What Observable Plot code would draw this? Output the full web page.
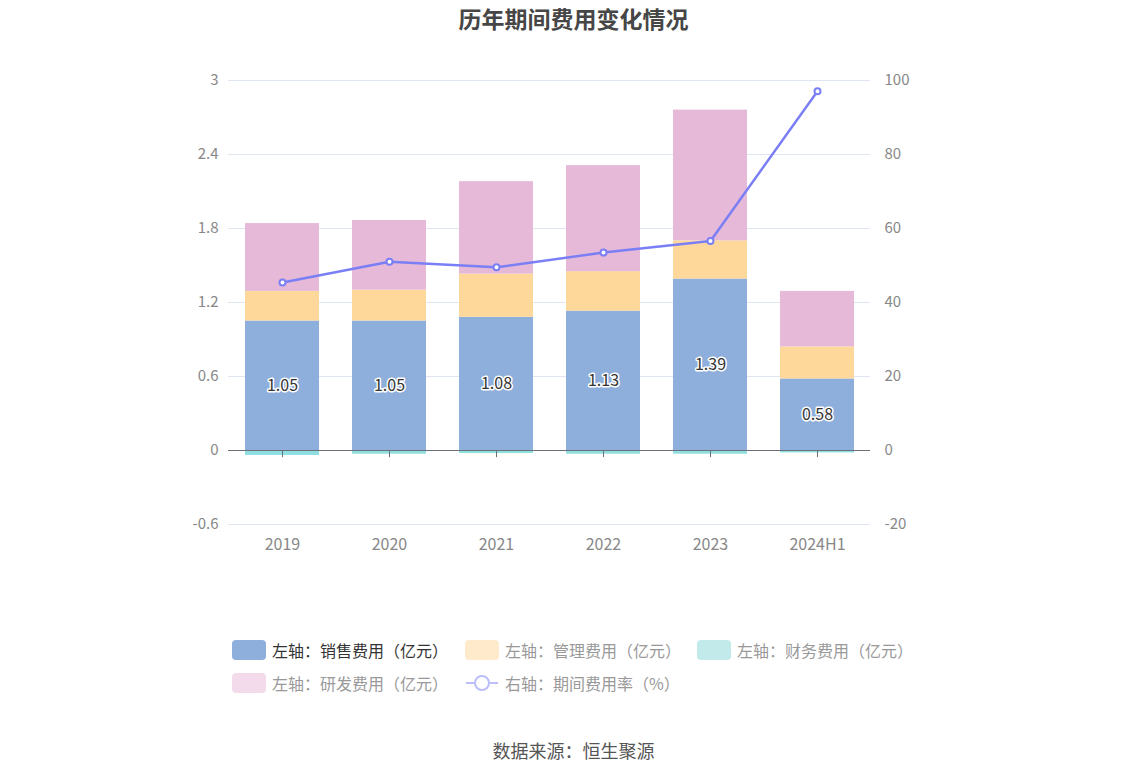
<!DOCTYPE html>
<html><head><meta charset="utf-8">
<script src="https://cdn.jsdelivr.net/npm/d3@7"></script>
<script src="https://cdn.jsdelivr.net/npm/@observablehq/plot@0.6"></script>
<style>
body{margin:0;background:#fff;font-family:"Noto Sans CJK SC","Noto Sans",sans-serif;}
#wrap{position:relative;width:1147px;height:776px;overflow:hidden;}
#title{position:absolute;top:4px;left:0;width:1147px;text-align:center;font-size:23px;font-weight:bold;color:#464646;line-height:28px;}
#chart{position:absolute;top:40px;left:0;}
#legend{position:absolute;top:637px;left:230px;width:720px;font-size:16px;color:#999;}
.li{position:absolute;display:flex;align-items:center;white-space:nowrap;}
.sw{width:34px;height:20px;border-radius:4px;margin-right:6px;}
#src{position:absolute;top:737px;left:0;width:1147px;text-align:center;font-size:18px;color:#555;}
</style></head>
<body><div id="wrap">
<div id="title">历年期间费用变化情况</div>
<div id="chart"></div>
<div id="legend"></div>
<div id="src">数据来源：恒生聚源</div>
</div>
<script>
const years = ["2019","2020","2021","2022","2023","2024H1"];
const sales = [1.05,1.05,1.08,1.13,1.39,0.58];
const admin = [0.24,0.25,0.35,0.32,0.31,0.26];
const finance = [-0.04,-0.03,-0.025,-0.03,-0.03,-0.02];
const rnd = [0.55,0.565,0.75,0.86,1.06,0.45];
const rate = [45.4,51.0,49.5,53.5,56.6,97.1];
const leftTicks = [-0.6,0,0.6,1.2,1.8,2.4,3];
const rightTicks = [-20,0,20,40,60,80,100];

const series = [
  {name:"左轴：销售费用（亿元）", vals:sales, color:"#8eaedb"},
  {name:"左轴：管理费用（亿元）", vals:admin, color:"#fed89b"},
  {name:"左轴：财务费用（亿元）", vals:finance, color:"#8fdfe0"},
  {name:"左轴：研发费用（亿元）", vals:rnd, color:"#e6b9d9"}
];
const rows = [];
series.forEach(s => years.forEach((y,i) => rows.push({year:y, series:s.name, value:s.vals[i]})));
const lineRows = years.map((y,i) => ({year:y, rate:rate[i], v: rate[i]*3/100}));
const salesRows = years.map((y,i)=>({year:y, value:sales[i]}));

const chart = Plot.plot({
  width:1147, height:532,
  marginLeft:228, marginRight:277, marginTop:40, marginBottom:48,
  style:{fontFamily:"'Noto Sans CJK SC','Noto Sans',sans-serif", fontSize:"15px", color:"#888"},
  x:{domain:years, paddingInner:0.31, paddingOuter:0.155, align:0.5, label:null},
  y:{domain:[-0.6,3], label:null},
  color:{domain:series.map(s=>s.name), range:series.map(s=>s.color)},
  marks:[
    Plot.gridY(leftTicks, {stroke:"#e0e6f1", strokeOpacity:1, strokeWidth:1.2}),
    Plot.axisY(leftTicks, {anchor:"left", tickSize:0, tickPadding:10, fontSize:15, fill:"#888", label:null, tickFormat:d=>String(d)}),
    Plot.axisY(leftTicks, {anchor:"right", tickSize:0, tickPadding:14, fontSize:15, fill:"#888", label:null, tickFormat:(d,i)=>String(rightTicks[i])}),
    Plot.axisX({anchor:"bottom", tickSize:0, tickPadding:14, fontSize:16, fill:"#888", label:null}),
    Plot.barY(rows, Plot.stackY({x:"year", y:"value", fill:"series", order:series.map(s=>s.name)})),
    Plot.ruleY([0], {stroke:"#6e7079", strokeWidth:1.2}),
    Plot.ruleX(years, {x:d=>d, y1:0, y2:-0.058, stroke:"#6e7079"}),
    Plot.text(salesRows, {x:"year", y:d=>d.value/2, text:d=>d.value.toFixed(2), fill:"#333", stroke:"white", strokeWidth:3, fontSize:16}),
    Plot.line(lineRows, {x:"year", y:"v", stroke:"#7b7ff5", strokeWidth:2.5}),
    Plot.dot(lineRows, {x:"year", y:"v", r:3, fill:"white", stroke:"#7b7ff5", strokeWidth:2})
  ]
});
document.getElementById("chart").appendChild(chart);

const legend = document.getElementById("legend");
const items = [
  {label:series[0].name, color:"#8eaedb", x:2, y:1, active:true},
  {label:series[1].name, color:"#ffeacc", x:235, y:1},
  {label:series[2].name, color:"#c2eaeb", x:467, y:1},
  {label:series[3].name, color:"#f3dbec", x:2, y:34},
  {label:"右轴：期间费用率（%）", line:true, x:235, y:34}
];
items.forEach(it => {
  const d = document.createElement("div");
  d.className = "li";
  d.style.left = it.x + "px"; d.style.top = it.y + "px";
  if (it.line) {
    d.innerHTML = `<svg width="34" height="20" style="margin-right:6px"><line x1="1" y1="10" x2="33" y2="10" stroke="#bcbefa" stroke-width="2"/><circle cx="17" cy="10" r="7" fill="white" stroke="#bcbefa" stroke-width="2"/></svg>`;
  } else {
    d.innerHTML = `<div class="sw" style="background:${it.color}"></div>`;
  }
  const t = document.createElement("span");
  t.textContent = it.label;
  t.style.color = it.active ? "#333" : "#999";
  d.appendChild(t);
  legend.appendChild(d);
});
</script>
</body></html>
